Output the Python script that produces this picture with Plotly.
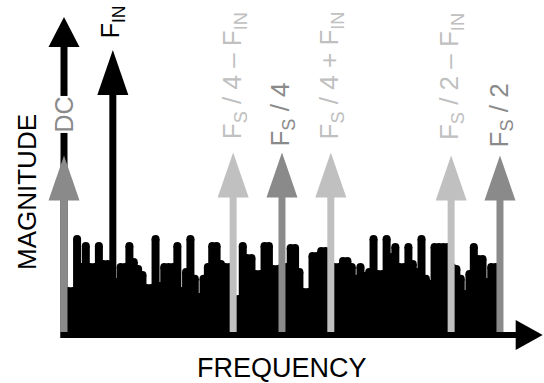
import plotly.graph_objects as go

# ---------------- data ----------------
# noise floor: FFT bin index (bin width = Fs/200) and magnitude (% of F_IN)
NOISE_BIN_WIDTH = 1 / 200
noise_bin = list(range(1, 100))
noise_mag = [
    16.8, 16.8, 35.1, 25.3, 32.6, 25.3, 25.3, 32.6, 26.3, 26.3,
    25.6, 20.0, 25.3, 25.3, 32.6, 27.0, 24.6, 22.5, 17.9, 17.9,
    35.1, 18.6, 25.3, 25.3, 25.3, 32.6, 16.8, 23.5, 35.1, 21.1,
    14.7, 21.1, 25.3, 32.6, 32.6, 26.3, 25.3, 25.3, 14.0, 14.0,
    32.6, 28.4, 28.4, 22.8, 22.8, 32.6, 32.6, 24.6, 24.6, 25.3,
    25.3, 31.9, 31.9, 23.5, 16.5, 16.5, 29.1, 29.1, 30.9, 30.9,
    25.3, 25.3, 25.3, 27.4, 27.4, 25.3, 21.1, 25.3, 22.1, 23.5,
    35.1, 22.8, 22.8, 35.1, 28.8, 32.3, 25.3, 25.3, 32.3, 26.3,
    23.5, 35.1, 21.1, 19.3, 32.3, 32.3, 32.3, 32.3, 25.3, 24.6,
    21.1, 15.8, 22.8, 32.3, 28.1, 28.1, 20.0, 25.3, 25.3,
]

# tones: label, normalized frequency (f/Fs), magnitude (% of F_IN)
tone_label = [
    "DC",
    "F<sub>IN</sub>",
    "F<sub>S</sub> / 4 – F<sub>IN</sub>",
    "F<sub>S</sub> / 4",
    "F<sub>S</sub> / 4 + F<sub>IN</sub>",
    "F<sub>S</sub> / 2 – F<sub>IN</sub>",
    "F<sub>S</sub> / 2",
]
tone_freq = [0.0, 0.056, 0.194, 0.25, 0.306, 0.444, 0.5]
tone_mag = [63, 100, 64, 64, 64, 63, 63]

x_title = "FREQUENCY"
y_title = "MAGNITUDE"

# ---------------- style ----------------
LIGHT = "#c0c0c0"
DARK = "#8a8a8a"
BLACK = "#000000"
tone_color = [DARK, BLACK, LIGHT, DARK, LIGHT, LIGHT, DARK]
tone_label_gap = [22, 11, 12, 5, 12, 14, 7]  # px between arrow tip and label
tone_font = [25, 25, 26, 26, 26, 26, 26]
FONT = "Liberation Sans, Arial, sans-serif"
FS_XTITLE = 27
FS_YTITLE = 26

W, H = 544, 383
X_RANGE = [-0.0734, 0.5505]
Y_RANGE = [-16.84, 117.54]
dx = (X_RANGE[1] - X_RANGE[0]) / W  # data units per px
dy = (Y_RANGE[1] - Y_RANGE[0]) / H

AXIS_Y_TIP = 111.6      # magnitude at tip of the y axis arrow
AXIS_X_TIP = 0.549      # frequency at tip of the x axis arrow

fig = go.Figure()

# noise floor (thick round-capped strokes)
STROKE_PX = 8
cap = STROKE_PX / 2 * dy
nx, nyl = [], []
for b, m in zip(noise_bin, noise_mag):
    f = b * NOISE_BIN_WIDTH
    nx += [f, f, None]
    nyl += [0, m - cap, None]
fig.add_trace(go.Scatter(x=nx, y=nyl, mode="lines",
                         line=dict(color=BLACK, width=STROKE_PX)))
fig.add_trace(go.Scatter(x=[b * NOISE_BIN_WIDTH for b in noise_bin],
                         y=[m - cap for m in noise_mag], mode="markers",
                         marker=dict(symbol="circle", size=STROKE_PX, color=BLACK,
                                     line=dict(width=0))))


def up_arrow(x, tip, color, base=0.0, shaft=7, head_len=45, head_w=31):
    hb = tip - head_len * dy
    fig.add_trace(go.Scatter(x=[x, x], y=[base, hb + 2 * dy], mode="lines",
                             line=dict(color=color, width=shaft)))
    hw = head_w / 2 * dx
    fig.add_trace(go.Scatter(x=[x - hw, x, x + hw, x - hw], y=[hb, tip, hb, hb],
                             mode="lines", fill="toself", fillcolor=color,
                             line=dict(width=0)))


# y axis arrow
up_arrow(0.0, AXIS_Y_TIP, BLACK, base=-3 * dy, shaft=7, head_len=30, head_w=31)

# tone arrows
for f, m, c in zip(tone_freq, tone_mag, tone_color):
    up_arrow(f, m, c)

# x axis arrow
hb_x = AXIS_X_TIP - 27 * dx
fig.add_trace(go.Scatter(x=[-3.5 * dx, hb_x + 2 * dx], y=[0, 0], mode="lines",
                         line=dict(color=BLACK, width=6)))
hh = 15 * dy
fig.add_trace(go.Scatter(x=[hb_x, AXIS_X_TIP, hb_x, hb_x], y=[-hh, 0, hh, -hh],
                         mode="lines", fill="toself", fillcolor=BLACK,
                         line=dict(width=0)))

# tone labels
for lab, f, m, c, g, s in zip(tone_label, tone_freq, tone_mag, tone_color,
                              tone_label_gap, tone_font):
    fig.add_annotation(x=f, y=m, yshift=g, text=lab, showarrow=False,
                       textangle=-90, xanchor="center", yanchor="bottom",
                       font=dict(family=FONT, size=s, color=c),
                       bgcolor="white" if lab == "DC" else None, borderpad=0)

# axis titles
fig.add_annotation(xref="paper", yref="paper", x=282 / W, y=1 - 368 / H,
                   text=x_title, showarrow=False, xanchor="center", yanchor="middle",
                   font=dict(family=FONT, size=FS_XTITLE, color=BLACK))
fig.add_annotation(xref="paper", yref="paper", x=27 / W, y=1 - 192 / H,
                   text=y_title, showarrow=False, textangle=-90,
                   xanchor="center", yanchor="middle",
                   font=dict(family=FONT, size=FS_YTITLE, color=BLACK))

fig.update_layout(
    width=W, height=H, margin=dict(l=0, r=0, t=0, b=0),
    paper_bgcolor="white", plot_bgcolor="white", showlegend=False,
    xaxis=dict(range=X_RANGE, visible=False, fixedrange=True),
    yaxis=dict(range=Y_RANGE, visible=False, fixedrange=True),
)

fig.write_html("out.html", config={"displayModeBar": False})
